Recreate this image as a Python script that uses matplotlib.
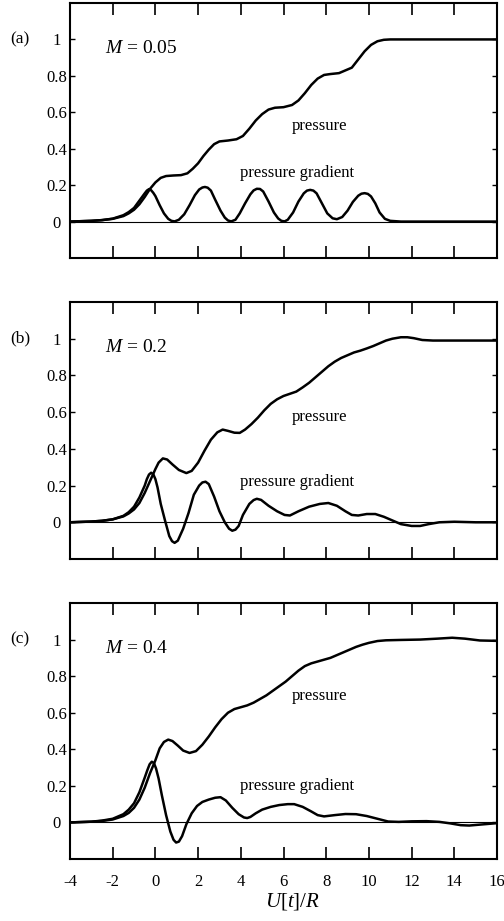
import numpy as np
import matplotlib
matplotlib.use('Agg')
import matplotlib.pyplot as plt

plt.rcParams['font.family'] = ['Liberation Serif', 'DejaVu Serif']
plt.rcParams['mathtext.fontset'] = 'custom'
plt.rcParams['mathtext.rm'] = 'Liberation Serif'
plt.rcParams['mathtext.it'] = 'Liberation Serif:italic'
plt.rcParams['axes.unicode_minus'] = False

# ---- data ----
# (a) M = 0.05
xp_a = [-4.0, -3.0, -2.5, -2.0, -1.5, -1.25, -1.0, -0.75, -0.5, -0.25, 0.0, 0.25, 0.5, 0.84,
        1.2, 1.5, 1.75, 2.0, 2.25, 2.5, 2.75, 3.0, 3.4, 3.8, 4.1, 4.4, 4.7, 5.0, 5.3, 5.6,
        6.0, 6.4, 6.7, 7.0, 7.3, 7.6, 7.9, 8.2, 8.6, 8.9, 9.2, 9.5, 9.8, 10.1, 10.4, 10.7,
        11.0, 16.0]
p_a = [0.0, 0.004, 0.008, 0.015, 0.03, 0.045, 0.065, 0.095, 0.135, 0.18, 0.215, 0.24, 0.25, 0.253,
       0.255, 0.265, 0.29, 0.32, 0.36, 0.395, 0.425, 0.44, 0.445, 0.452, 0.47, 0.51, 0.555, 0.59,
       0.615, 0.625, 0.628, 0.64, 0.665, 0.705, 0.75, 0.785, 0.805, 0.81, 0.815, 0.83, 0.845,
       0.89, 0.935, 0.97, 0.99, 0.998, 1.0, 1.0]
xg_a = [-4.0, -3.0, -2.5, -2.0, -1.5, -1.25, -1.0, -0.75, -0.5, -0.4, -0.3, -0.2, -0.1, 0.0,
        0.2, 0.4, 0.6, 0.75, 0.9, 1.1, 1.35, 1.6, 1.85, 2.05, 2.2, 2.32, 2.45, 2.6, 2.8, 3.05,
        3.25, 3.4, 3.55, 3.75, 3.95, 4.2, 4.45, 4.6, 4.75, 4.9, 5.05, 5.3, 5.55, 5.75, 5.9,
        6.05, 6.2, 6.45, 6.7, 6.95, 7.1, 7.25, 7.4, 7.55, 7.8, 8.05, 8.3, 8.5, 8.75, 9.0,
        9.25, 9.5, 9.65, 9.8, 9.95, 10.1, 10.3, 10.5, 10.75, 11.0, 11.5, 16.0]
g_a = [0.0, 0.004, 0.008, 0.016, 0.035, 0.052, 0.075, 0.115, 0.155, 0.17, 0.178, 0.172, 0.158,
       0.14, 0.09, 0.045, 0.015, 0.004, 0.001, 0.01, 0.04, 0.09, 0.145, 0.176, 0.187, 0.19,
       0.186, 0.17, 0.12, 0.06, 0.022, 0.006, 0.001, 0.01, 0.045, 0.1, 0.15, 0.171, 0.18,
       0.179, 0.165, 0.11, 0.05, 0.017, 0.004, 0.001, 0.01, 0.05, 0.11, 0.155, 0.17, 0.174,
       0.17, 0.155, 0.1, 0.045, 0.018, 0.013, 0.025, 0.06, 0.108, 0.142, 0.153, 0.156, 0.152,
       0.138, 0.1, 0.05, 0.015, 0.004, 0.0, 0.0]

# (b) M = 0.2
xp_b = [-4.0, -3.0, -2.5, -2.0, -1.5, -1.25, -1.0, -0.75, -0.5, -0.25, 0.0, 0.15, 0.35, 0.55,
        0.8, 1.1, 1.45, 1.7, 2.0, 2.3, 2.6, 2.9, 3.15, 3.4, 3.7, 3.95, 4.2, 4.5, 4.8, 5.1,
        5.4, 5.7, 6.0, 6.3, 6.6, 6.9, 7.2, 7.5, 7.8, 8.1, 8.4, 8.7, 9.0, 9.3, 9.6, 9.9,
        10.2, 10.5, 10.8, 11.1, 11.5, 11.8, 12.1, 12.5, 13.0, 16.0]
p_b = [0.0, 0.004, 0.008, 0.016, 0.032, 0.048, 0.07, 0.105, 0.16, 0.225, 0.29, 0.325, 0.348, 0.342,
       0.315, 0.285, 0.268, 0.28, 0.325, 0.39, 0.45, 0.49, 0.505, 0.498, 0.488, 0.487, 0.505,
       0.535, 0.57, 0.61, 0.645, 0.67, 0.688, 0.7, 0.712, 0.735, 0.76, 0.79, 0.82, 0.85, 0.875,
       0.895, 0.91, 0.925, 0.935, 0.947, 0.96, 0.975, 0.99, 1.0, 1.008, 1.008, 1.003, 0.993,
       0.99, 0.99]
xg_b = [-4.0, -3.0, -2.5, -2.0, -1.5, -1.25, -1.0, -0.75, -0.5, -0.4, -0.3, -0.2, -0.1, 0.0,
        0.1, 0.25, 0.45, 0.65, 0.78, 0.9, 1.05, 1.3, 1.55, 1.8, 2.05, 2.2, 2.35, 2.5, 2.75,
        3.0, 3.25, 3.45, 3.6, 3.75, 3.9, 4.1, 4.4, 4.6, 4.75, 4.95, 5.3, 5.7, 6.05, 6.3, 6.7,
        7.2, 7.7, 8.1, 8.5, 8.9, 9.2, 9.5, 9.9, 10.3, 10.7, 11.1, 11.5, 12.0, 12.4, 12.8,
        13.3, 14.0, 15.0, 16.0]
g_b = [0.0, 0.004, 0.008, 0.016, 0.035, 0.055, 0.085, 0.135, 0.2, 0.235, 0.26, 0.27, 0.262,
       0.235, 0.19, 0.1, 0.01, -0.075, -0.103, -0.112, -0.1, -0.035, 0.05, 0.15, 0.2, 0.217,
       0.221, 0.208, 0.14, 0.06, 0.0, -0.035, -0.046, -0.04, -0.02, 0.04, 0.1, 0.121, 0.128,
       0.122, 0.09, 0.06, 0.04, 0.037, 0.06, 0.085, 0.1, 0.105, 0.09, 0.06, 0.04, 0.037,
       0.045, 0.045, 0.03, 0.01, -0.01, -0.02, -0.02, -0.01, 0.0, 0.003, 0.0, 0.0]

# (c) M = 0.4
xp_c = [-4.0, -3.0, -2.5, -2.0, -1.5, -1.25, -1.0, -0.75, -0.5, -0.25, 0.0, 0.2, 0.4, 0.6,
        0.8, 1.05, 1.3, 1.6, 1.9, 2.2, 2.5, 2.8, 3.1, 3.4, 3.7, 4.0, 4.3, 4.6, 4.9, 5.2,
        5.5, 5.8, 6.1, 6.4, 6.7, 7.0, 7.3, 7.6, 7.9, 8.2, 8.5, 8.8, 9.1, 9.4, 9.7, 10.0,
        10.4, 10.8, 11.5, 12.4, 13.2, 13.9, 14.5, 15.2, 16.0]
p_c = [0.0, 0.004, 0.008, 0.016, 0.035, 0.052, 0.08, 0.125, 0.19, 0.27, 0.34, 0.405, 0.44, 0.453,
       0.445, 0.42, 0.393, 0.38, 0.39, 0.425, 0.47, 0.52, 0.565, 0.6, 0.62, 0.63, 0.64, 0.655,
       0.675, 0.695, 0.72, 0.745, 0.77, 0.8, 0.83, 0.855, 0.87, 0.88, 0.89, 0.9, 0.915, 0.93,
       0.945, 0.96, 0.972, 0.982, 0.992, 0.996, 0.998, 1.0, 1.005, 1.01, 1.005, 0.995, 0.993]
xg_c = [-4.0, -3.0, -2.5, -2.0, -1.5, -1.25, -1.0, -0.75, -0.5, -0.38, -0.27, -0.17, -0.07, 0.03,
        0.15, 0.3, 0.5, 0.7, 0.85, 0.97, 1.1, 1.25, 1.45, 1.7, 1.95, 2.2, 2.5, 2.8, 3.05, 3.3,
        3.6, 3.9, 4.15, 4.3, 4.45, 4.7, 5.0, 5.4, 5.8, 6.2, 6.5, 6.9, 7.3, 7.6, 7.9, 8.4,
        8.9, 9.4, 9.9, 10.4, 10.9, 11.4, 12.0, 12.7, 13.3, 13.8, 14.3, 14.7, 15.2, 16.0]
g_c = [0.0, 0.004, 0.01, 0.02, 0.045, 0.07, 0.105, 0.165, 0.245, 0.285, 0.318, 0.332, 0.325,
       0.295, 0.24, 0.15, 0.04, -0.05, -0.095, -0.11, -0.105, -0.075, -0.01, 0.05, 0.09,
       0.112, 0.125, 0.135, 0.138, 0.12, 0.08, 0.045, 0.027, 0.024, 0.03, 0.05, 0.07, 0.085,
       0.095, 0.1, 0.1, 0.085, 0.06, 0.04, 0.033, 0.04, 0.046, 0.045, 0.035, 0.02, 0.005,
       0.003, 0.006, 0.007, 0.003, -0.005, -0.015, -0.017, -0.012, -0.004]

panels = [
    ('(a)', '0.05', xp_a, p_a, xg_a, g_a, 0.523, 0.266),
    ('(b)', '0.2', xp_b, p_b, xg_b, g_b, 0.571, 0.217),
    ('(c)', '0.4', xp_c, p_c, xg_c, g_c, 0.69, 0.197),
]

xticks = [-4, -2, 0, 2, 4, 6, 8, 10, 12, 14, 16]
yticks = [0, 0.2, 0.4, 0.6, 0.8, 1.0]
ytick_labels = ['0', '0.2', '0.4', '0.6', '0.8', '1']

fig = plt.figure(figsize=(5.04, 9.21), dpi=100)
W, H = 504.0, 921.0
boxes = [(70, 3, 497, 258), (70, 302, 497, 559), (70, 603, 497, 859)]

for i, (lab, mach, xp, p, xg, g, ylab_p, ylab_g) in enumerate(panels):
    l, t, r, b = boxes[i]
    ax = fig.add_axes([l / W, 1 - b / H, (r - l) / W, (b - t) / H])
    ax.axhline(0, color='black', lw=0.8)
    ax.plot(xp, p, color='black', lw=1.8, solid_joinstyle='round')
    ax.plot(xg, g, color='black', lw=1.8, solid_joinstyle='round')
    ax.set_xlim(-4, 16)
    ax.set_ylim(-0.2, 1.2)

    for s in ax.spines.values():
        s.set_linewidth(1.5)

    ax.set_xticks(xticks)
    ax.set_yticks(yticks)
    ax.set_yticklabels(ytick_labels)
    ax.tick_params(axis='x', direction='in', top=True, bottom=True,
                   length=8.5, width=1.2, labelsize=12, pad=11)
    ax.tick_params(axis='y', direction='in', left=True, right=True,
                   length=3.5, width=1.0, labelsize=12, pad=9.5)
    plt.setp(ax.get_yticklabels(), ha='center')
    if i < 2:
        ax.set_xticklabels([])

    ax.text(-6.35, 1.0, lab, ha='center', va='center', fontsize=12.5, clip_on=False)
    ax.text(-2.36, 0.95, r'$M$ = ' + mach, ha='left', va='center', fontsize=14)
    ax.text(6.38, ylab_p, 'pressure', ha='left', va='center', fontsize=12)
    ax.text(3.96, ylab_g, 'pressure gradient', ha='left', va='center', fontsize=12)

    if i == 2:
        ax.set_xlabel(r'$U[t]/R$', fontsize=15)
        ax.xaxis.set_label_coords(0.522, -0.125)

fig.savefig('out.png', dpi=100, facecolor='white')
plt.close(fig)
